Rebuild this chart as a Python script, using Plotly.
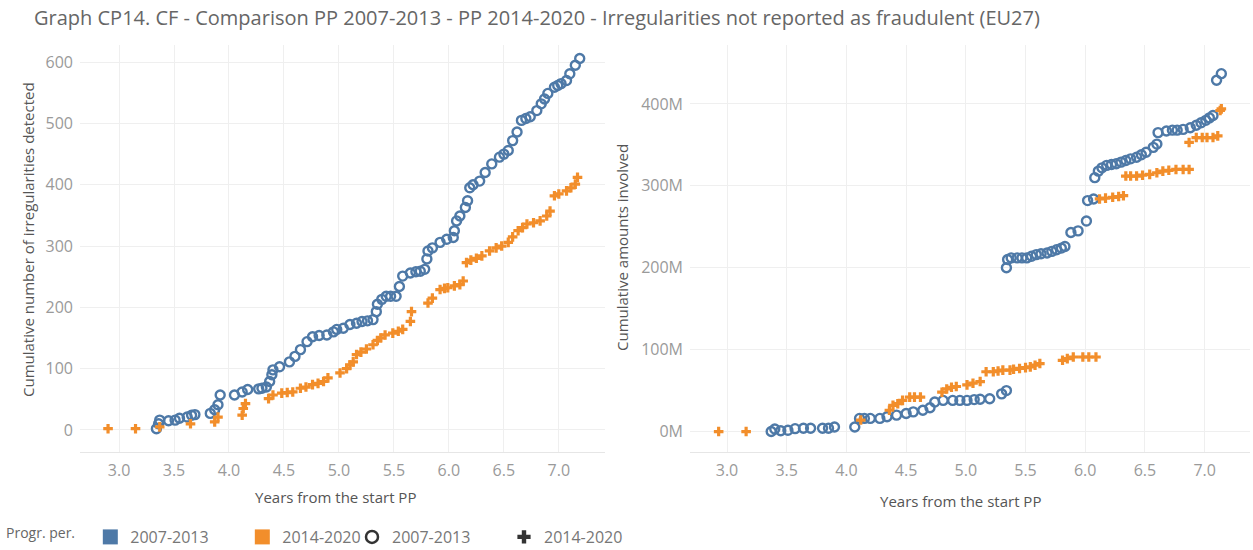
import plotly.graph_objects as go

BLUE = "#4e79a7"
ORANGE = "#f28e2b"

# ---------------- data: left panel (cumulative number of irregularities) ----------------
left_0713_x = [3.34, 3.36, 3.37, 3.45, 3.51, 3.55, 3.62, 3.66, 3.69, 3.83, 3.87, 3.90, 3.92, 4.05, 4.12,
               4.17, 4.27, 4.30, 4.34, 4.37, 4.39, 4.40, 4.46, 4.55, 4.60, 4.65, 4.71, 4.76, 4.82, 4.89,
               4.95, 4.98, 5.04, 5.10, 5.16, 5.21, 5.26, 5.31, 5.34, 5.35, 5.39, 5.43, 5.47, 5.52, 5.55,
               5.58, 5.65, 5.70, 5.74, 5.78, 5.80, 5.81, 5.85, 5.92, 5.98, 6.04, 6.05, 6.07, 6.10, 6.15,
               6.17, 6.19, 6.22, 6.28, 6.33, 6.39, 6.46, 6.50, 6.54, 6.58, 6.62, 6.66, 6.70, 6.74, 6.80,
               6.84, 6.87, 6.90, 6.96, 6.99, 7.02, 7.07, 7.10, 7.15, 7.19]
left_0713_y = [2, 10, 16, 15, 16, 19, 21, 24, 25, 27, 33, 41, 57, 57, 62,
               66, 67, 68, 70, 79, 90, 98, 103, 111, 120, 131, 144, 152, 154, 155,
               160, 164, 166, 172, 174, 177, 178, 180, 193, 205, 213, 218, 218, 218, 234,
               251, 256, 258, 259, 262, 279, 292, 297, 306, 311, 314, 325, 341, 349, 363,
               374, 395, 400, 406, 420, 434, 445, 450, 456, 472, 486, 505, 508, 511, 521,
               532, 540, 549, 559, 562, 565, 570, 581, 595, 606]

left_1420_x = [2.90, 3.15, 3.37, 3.65, 3.87, 3.90, 4.12, 4.13, 4.15, 4.36, 4.40, 4.48, 4.53, 4.58, 4.65,
               4.70, 4.76, 4.81, 4.86, 4.90, 5.01, 5.07, 5.10, 5.13, 5.16, 5.20, 5.25, 5.31, 5.35, 5.38,
               5.42, 5.49, 5.54, 5.58, 5.65, 5.66, 5.81, 5.85, 5.92, 5.96, 5.99, 6.05, 6.10, 6.13, 6.16,
               6.20, 6.25, 6.30, 6.37, 6.43, 6.48, 6.54, 6.58, 6.63, 6.67, 6.71, 6.77, 6.83, 6.89, 6.92,
               6.96, 7.00, 7.07, 7.11, 7.15, 7.17]
left_1420_y = [2, 2, 5, 10, 13, 21, 24, 35, 43, 51, 57, 60, 61, 62, 68,
               70, 74, 76, 79, 85, 93, 100, 106, 111, 123, 127, 132, 139, 146, 150,
               155, 158, 161, 164, 177, 193, 207, 215, 229, 231, 232, 235, 237, 243, 273,
               277, 280, 284, 292, 297, 300, 306, 315, 325, 330, 336, 338, 341, 349, 357,
               382, 385, 390, 395, 401, 412]

# ---------------- data: right panel (cumulative amounts, millions) ----------------
right_0713_x = [3.37, 3.40, 3.45, 3.51, 3.57, 3.64, 3.70, 3.80, 3.85, 3.90, 4.07, 4.11, 4.15, 4.20, 4.28,
                4.34, 4.42, 4.50, 4.56, 4.64, 4.70, 4.74, 4.81, 4.89, 4.95, 5.01, 5.07, 5.12, 5.20, 5.30,
                5.34, 5.34, 5.35, 5.38, 5.43, 5.47, 5.51, 5.55, 5.59, 5.63, 5.68, 5.72, 5.76, 5.80, 5.83,
                5.88, 5.94, 6.01, 6.02, 6.07, 6.08, 6.11, 6.14, 6.18, 6.22, 6.26, 6.30, 6.34, 6.38, 6.43,
                6.47, 6.51, 6.57, 6.60, 6.61, 6.68, 6.73, 6.77, 6.82, 6.88, 6.93, 6.97, 7.01, 7.04, 7.07,
                7.10, 7.14]
right_0713_y = [0, 3, 1, 1.5, 3.5, 4, 4, 4, 4, 5.5, 5.5, 16, 16, 16, 16,
                18, 20, 22, 24, 26, 29, 36, 38, 38, 38, 38, 39, 39.5, 40, 46,
                50, 200, 210, 212, 212, 212, 212, 214, 216, 217, 218, 220, 222, 224, 226,
                243, 245, 257, 282, 284, 310, 318, 322, 325, 326, 327, 329, 331, 333, 335,
                338, 341, 347, 351, 365, 367, 368, 368, 369, 371, 374, 377, 380, 383, 386,
                429, 437]

right_1420_x = [2.93, 3.16, 4.12, 4.36, 4.39, 4.43, 4.47, 4.53, 4.57, 4.62, 4.80, 4.84, 4.88, 4.92, 5.01,
                5.06, 5.12, 5.17, 5.23, 5.27, 5.31, 5.37, 5.40, 5.45, 5.50, 5.54, 5.58, 5.62, 5.81, 5.85,
                5.90, 5.98, 6.03, 6.09, 6.12, 6.17, 6.23, 6.28, 6.32, 6.34, 6.38, 6.43, 6.48, 6.54, 6.60,
                6.65, 6.70, 6.76, 6.82, 6.87, 6.87, 6.93, 6.98, 7.02, 7.07, 7.11, 7.13, 7.14]
right_1420_y = [0, 0, 14, 26, 32, 34, 38, 42, 42, 42, 48, 52, 54, 55, 57,
                59, 61, 73, 73, 74, 75, 75, 76, 77, 78, 79, 81, 83, 87, 89,
                91, 91, 91, 91, 284, 285, 286, 287, 288, 312, 312, 312, 313, 314, 316,
                318, 319, 320, 320, 320, 353, 359, 359, 359, 359, 361, 392, 394]

x_ticks = [3.0, 3.5, 4.0, 4.5, 5.0, 5.5, 6.0, 6.5, 7.0]
left_y_ticks = [0, 100, 200, 300, 400, 500, 600]
right_y_ticks = [0, 100, 200, 300, 400]
right_y_labels = ["0M", "100M", "200M", "300M", "400M"]
series_names = ["2007-2013", "2014-2020"]

W, H = 1253, 550
FONT = "Open Sans"

fig = go.Figure()

circ = dict(symbol="circle-open", size=9, color=BLUE, line=dict(width=2.4, color=BLUE))
cross = dict(symbol="cross", size=8, color=ORANGE, line=dict(width=0))

fig.add_trace(go.Scatter(x=left_0713_x, y=left_0713_y, mode="markers", marker=circ,
                         showlegend=False, xaxis="x", yaxis="y", name=series_names[0]))
fig.add_trace(go.Scatter(x=left_1420_x, y=left_1420_y, mode="markers", marker=cross,
                         showlegend=False, xaxis="x", yaxis="y", name=series_names[1]))
fig.add_trace(go.Scatter(x=right_0713_x, y=right_0713_y, mode="markers", marker=circ,
                         showlegend=False, xaxis="x2", yaxis="y2", name=series_names[0]))
fig.add_trace(go.Scatter(x=right_1420_x, y=right_1420_y, mode="markers", marker=cross,
                         showlegend=False, xaxis="x2", yaxis="y2", name=series_names[1]))

# legend entries
fig.add_trace(go.Scatter(x=[None], y=[None], mode="markers", name=series_names[0],
                         marker=dict(symbol="square", size=15, color=BLUE), legend="legend"))
fig.add_trace(go.Scatter(x=[None], y=[None], mode="markers", name=series_names[1],
                         marker=dict(symbol="square", size=15, color=ORANGE), legend="legend"))
fig.add_trace(go.Scatter(x=[None], y=[None], mode="markers", name=series_names[0],
                         marker=dict(symbol="circle-open", size=12, color="#333", line=dict(width=2.5)),
                         legend="legend2"))
fig.add_trace(go.Scatter(x=[None], y=[None], mode="markers", name=series_names[1],
                         marker=dict(symbol="cross", size=11, color="#333"), legend="legend2"))

grid = "#efefef"
tickfont = dict(family=FONT, size=16, color="#9a9a9a")
ybot = 1 - 452 / H
ytop = 1 - 45 / H

common_x = dict(tickvals=x_ticks, tickformat=".1f", showgrid=True, gridcolor=grid, zeroline=False,
                showline=True, linecolor="#e6e6e6", ticks="", tickfont=tickfont, ticklabelstandoff=4)
common_y = dict(showgrid=True, gridcolor=grid, zeroline=False, ticks="", tickfont=tickfont,
                domain=[ybot, ytop], ticklabelstandoff=6)

fig.update_layout(
    width=W, height=H,
    margin=dict(l=0, r=0, t=0, b=0, autoexpand=False),
    paper_bgcolor="white", plot_bgcolor="white",
    font=dict(family=FONT, color="#555"),
    title=dict(text="Graph CP14. CF - Comparison PP 2007-2013 - PP 2014-2020 - Irregularities not reported as fraudulent (EU27)",
               x=34 / W, xanchor="left", y=1 - 18 / H, yanchor="middle",
               font=dict(family=FONT, size=20, color="#666")),
    xaxis=dict(domain=[80 / W, 605 / W], range=[2.645, 7.42], anchor="y", **common_x),
    yaxis=dict(range=[-36, 628], tickvals=left_y_ticks, anchor="x", **common_y),
    xaxis2=dict(domain=[690 / W, 1250 / W], range=[2.69, 7.38], anchor="y2", **common_x),
    yaxis2=dict(range=[-25, 472], tickvals=right_y_ticks, ticktext=right_y_labels, anchor="x2", **common_y),
    legend=dict(orientation="h", x=4 / W, xanchor="left", y=1 - 537 / H, yanchor="middle",
                title=dict(text="Progr. per.  ", font=dict(family=FONT, size=14, color="#666")),
                font=dict(family=FONT, size=16, color="#777"),
                entrywidth=107, entrywidthmode="pixels", itemwidth=30, bgcolor="rgba(0,0,0,0)"),
    legend2=dict(orientation="h", x=352 / W, xanchor="left", y=1 - 537 / H, yanchor="middle",
                 font=dict(family=FONT, size=16, color="#777"),
                 entrywidth=107, entrywidthmode="pixels", itemwidth=30, bgcolor="rgba(0,0,0,0)"),
    annotations=[
        dict(text="Cumulative number of irregularities detected", xref="paper", yref="paper",
             x=28 / W, y=1 - 240 / H, textangle=-90, showarrow=False,
             font=dict(family=FONT, size=15, color="#555"), xanchor="center", yanchor="middle"),
        dict(text="Cumulative amounts involved", xref="paper", yref="paper",
             x=622 / W, y=1 - 248 / H, textangle=-90, showarrow=False,
             font=dict(family=FONT, size=15, color="#555"), xanchor="center", yanchor="middle"),
        dict(text="Years from the start PP", xref="paper", yref="paper",
             x=335 / W, y=1 - 497 / H, showarrow=False,
             font=dict(family=FONT, size=15, color="#555"), xanchor="center", yanchor="middle"),
        dict(text="Years from the start PP", xref="paper", yref="paper",
             x=960 / W, y=1 - 501 / H, showarrow=False,
             font=dict(family=FONT, size=15, color="#555"), xanchor="center", yanchor="middle"),
    ],
)

fig.write_html("out.html", config={"displayModeBar": False},
               post_script="document.body.style.margin='0px';")
